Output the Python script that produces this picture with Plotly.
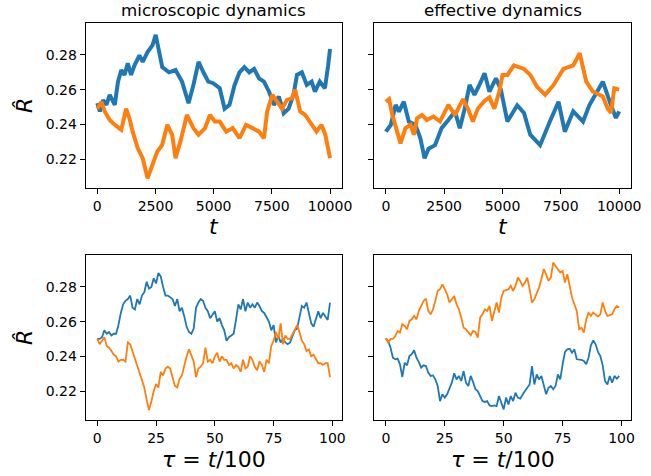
import plotly.graph_objects as go

# ---------------- data ----------------
# top-left: microscopic dynamics, t in [0, 10000]
tl_blue_t = [0, 110, 250, 390, 535, 750, 890, 1030, 1170, 1310, 1450, 1600, 1810, 1950, 2160,
             2370, 2510, 2650, 2790, 3080, 3360, 3640, 3920, 4130, 4350, 4560, 4770, 4980, 5260,
             5470, 5680, 5900, 6110, 6320, 6530, 6740, 6950, 7160, 7380, 7590, 7800, 8010, 8220,
             8430, 8580, 8790, 9000, 9210, 9350, 9560, 9780, 9920, 10000]
tl_blue_v = [0.2522, 0.2474, 0.254, 0.2512, 0.257, 0.2512, 0.2646, 0.2713, 0.2685, 0.2752, 0.2685,
             0.274, 0.2797, 0.276, 0.2816, 0.2855, 0.2915, 0.2816, 0.273, 0.27, 0.2713, 0.2646,
             0.2522, 0.2627, 0.276, 0.27, 0.2646, 0.2637, 0.2608, 0.249, 0.2512, 0.2627, 0.27,
             0.273, 0.27, 0.2719, 0.2665, 0.2646, 0.2588, 0.2512, 0.256, 0.2464, 0.249, 0.257,
             0.2685, 0.27, 0.2627, 0.2646, 0.2588, 0.2646, 0.2608, 0.274, 0.2834]
tl_orange_t = [0, 180, 320, 535, 750, 1030, 1240, 1380, 1520, 1740, 1950, 2160, 2370, 2580, 2790,
               3010, 3220, 3360, 3570, 3850, 4130, 4350, 4630, 4840, 5050, 5260, 5540, 5820, 6110,
               6390, 6670, 6950, 7160, 7300, 7520, 7730, 7940, 8150, 8360, 8500, 8720, 8930, 9210,
               9420, 9630, 9800, 10000]
tl_orange_v = [0.249, 0.253, 0.2474, 0.2425, 0.2397, 0.2368, 0.249, 0.2435, 0.2358, 0.2262, 0.2205,
               0.2089, 0.2166, 0.2243, 0.2282, 0.2397, 0.234, 0.2205, 0.23, 0.2454, 0.2378, 0.234,
               0.2378, 0.2454, 0.2416, 0.2416, 0.2358, 0.2378, 0.232, 0.2397, 0.2378, 0.2358, 0.232,
               0.2474, 0.257, 0.253, 0.249, 0.2541, 0.255, 0.26, 0.2474, 0.2454, 0.2397, 0.2358,
               0.2397, 0.234, 0.2205]

# top-right: effective dynamics, t in [0, 10000]
tr_blue_t = [0, 210, 420, 560, 770, 985, 1270, 1480, 1660, 1830, 2110, 2390, 2680, 2960, 3170,
             3380, 3590, 3800, 4010, 4230, 4440, 4720, 4930, 5210, 5630, 5920, 6190, 6610, 7030,
             7400, 7670, 8030, 8450, 8720, 9020, 9300, 9650, 9860, 10000]
tr_blue_v = [0.2358, 0.2396, 0.2512, 0.2474, 0.253, 0.2416, 0.2397, 0.232, 0.2204, 0.226, 0.228,
             0.2378, 0.2425, 0.2474, 0.2378, 0.249, 0.2627, 0.257, 0.2627, 0.2694, 0.2588, 0.2665,
             0.26, 0.2416, 0.251, 0.2466, 0.234, 0.228, 0.2416, 0.253, 0.2358, 0.2475, 0.2416,
             0.251, 0.258, 0.2646, 0.251, 0.2437, 0.2475]
tr_orange_t = [0, 140, 280, 490, 630, 840, 1060, 1200, 1340, 1550, 1760, 2040, 2320, 2680, 2960,
               3310, 3520, 3730, 3940, 4230, 4440, 4650, 4860, 5000, 5210, 5490, 5920, 6190, 6480,
               6830, 7190, 7610, 8030, 8310, 8590, 8870, 9300, 9510, 9650, 9790, 10000]
tr_orange_v = [0.253, 0.2545, 0.2453, 0.236, 0.229, 0.2378, 0.2397, 0.234, 0.2435, 0.2453, 0.2425,
               0.2445, 0.2416, 0.2512, 0.2453, 0.2545, 0.249, 0.2416, 0.249, 0.2535, 0.2555, 0.249,
               0.2588, 0.2685, 0.2685, 0.274, 0.2719, 0.2685, 0.2617, 0.257, 0.2627, 0.2719, 0.274,
               0.281, 0.2646, 0.2589, 0.256, 0.249, 0.2466, 0.2608, 0.26]

# bottom row: tau = t/100, 0..99
tau = list(range(100))
bl_blue = [0.250, 0.250, 0.251, 0.255, 0.253, 0.254, 0.252, 0.253, 0.253, 0.258,
           0.265, 0.270, 0.272, 0.273, 0.275, 0.268, 0.267, 0.273, 0.270, 0.275,
           0.277, 0.283, 0.279, 0.280, 0.285, 0.282, 0.288, 0.286, 0.280, 0.275,
           0.275, 0.274, 0.273, 0.269, 0.273, 0.266, 0.268, 0.263, 0.257, 0.254,
           0.253, 0.256, 0.268, 0.271, 0.273, 0.272, 0.268, 0.266, 0.262, 0.264,
           0.266, 0.260, 0.262, 0.258, 0.255, 0.249, 0.251, 0.252, 0.253, 0.261,
           0.270, 0.267, 0.273, 0.266, 0.271, 0.268, 0.270, 0.268, 0.271, 0.269,
           0.266, 0.265, 0.262, 0.260, 0.255, 0.258, 0.248, 0.252, 0.248, 0.250,
           0.248, 0.247, 0.248, 0.251, 0.255, 0.256, 0.262, 0.269, 0.268, 0.271,
           0.265, 0.259, 0.257, 0.262, 0.266, 0.262, 0.265, 0.263, 0.261, 0.271]
bl_orange = [0.250, 0.247, 0.249, 0.251, 0.246, 0.245, 0.243, 0.241, 0.240, 0.237,
             0.238, 0.238, 0.237, 0.248, 0.247, 0.243, 0.239, 0.234, 0.231, 0.227,
             0.222, 0.215, 0.209, 0.214, 0.220, 0.224, 0.222, 0.231, 0.229, 0.233,
             0.234, 0.233, 0.228, 0.223, 0.222, 0.227, 0.229, 0.235, 0.240, 0.244,
             0.240, 0.237, 0.228, 0.233, 0.234, 0.236, 0.245, 0.237, 0.238, 0.236,
             0.240, 0.242, 0.237, 0.240, 0.238, 0.238, 0.235, 0.236, 0.233, 0.235,
             0.234, 0.231, 0.238, 0.233, 0.234, 0.240, 0.238, 0.234, 0.232, 0.237,
             0.235, 0.231, 0.238, 0.236, 0.246, 0.249, 0.254, 0.250, 0.259, 0.247,
             0.252, 0.250, 0.250, 0.253, 0.255, 0.258, 0.254, 0.249, 0.247, 0.243,
             0.244, 0.240, 0.241, 0.238, 0.236, 0.236, 0.235, 0.236, 0.236, 0.228]
br_blue = [0.2504, 0.2488, 0.2450, 0.2392, 0.2383, 0.2387, 0.2354, 0.2281, 0.2363, 0.2348,
           0.2402, 0.2412, 0.2435, 0.2392, 0.2367, 0.2335, 0.2348, 0.2344, 0.2306, 0.2287,
           0.2290, 0.2267, 0.2229, 0.2142, 0.2181, 0.2162, 0.2181, 0.2210, 0.2248, 0.2302,
           0.2267, 0.2287, 0.2258, 0.2315, 0.2248, 0.2229, 0.2287, 0.2252, 0.2210, 0.2200,
           0.2171, 0.2142, 0.2137, 0.2142, 0.2117, 0.2113, 0.2117, 0.2113, 0.2171, 0.2133,
           0.2094, 0.2162, 0.2123, 0.2171, 0.2142, 0.2190, 0.2162, 0.2156, 0.2181, 0.2200,
           0.2219, 0.2238, 0.2344, 0.2238, 0.2296, 0.2267, 0.2287, 0.2229, 0.2181, 0.2219,
           0.2229, 0.2210, 0.2229, 0.2296, 0.2267, 0.2354, 0.2425, 0.2440, 0.2444, 0.2421,
           0.2440, 0.2383, 0.2383, 0.2379, 0.2373, 0.2354, 0.2392, 0.2463, 0.2492, 0.2469,
           0.2425, 0.2402, 0.2348, 0.2258, 0.2238, 0.2287, 0.2248, 0.2287, 0.2271, 0.2287]
br_orange = [0.2504, 0.2480, 0.2500, 0.2500, 0.2517, 0.2546, 0.2537, 0.2585, 0.2575, 0.2556,
             0.2604, 0.2613, 0.2633, 0.2613, 0.2662, 0.2690, 0.2719, 0.2733, 0.2662, 0.2642,
             0.2671, 0.2719, 0.2777, 0.2787, 0.2815, 0.2787, 0.2758, 0.2710, 0.2729, 0.2748,
             0.2700, 0.2671, 0.2623, 0.2565, 0.2556, 0.2537, 0.2521, 0.2546, 0.2540, 0.2508,
             0.2623, 0.2642, 0.2671, 0.2662, 0.2690, 0.2604, 0.2662, 0.2710, 0.2652, 0.2738,
             0.2777, 0.2781, 0.2787, 0.2806, 0.2777, 0.2806, 0.2854, 0.2835, 0.2806, 0.2825,
             0.2854, 0.2787, 0.2710, 0.2729, 0.2758, 0.2796, 0.2844, 0.2902, 0.2873, 0.2835,
             0.2854, 0.2940, 0.2921, 0.2902, 0.2883, 0.2892, 0.2825, 0.2873, 0.2796, 0.2738,
             0.2700, 0.2662, 0.2556, 0.2565, 0.2537, 0.2613, 0.2652, 0.2633, 0.2652, 0.2642,
             0.2629, 0.2642, 0.2710, 0.2662, 0.2633, 0.2637, 0.2642, 0.2671, 0.2690, 0.2681]

t_ticks = [0, 2500, 5000, 7500, 10000]
t_ticktext = ["0", "2500", "5000", "7500", "10000"]
tau_ticks = [0, 25, 50, 75, 100]
tau_ticktext = ["0", "25", "50", "75", "100"]
r_ticks = [0.22, 0.24, 0.26, 0.28]
r_ticktext = ["0.22", "0.24", "0.26", "0.28"]
titles = ["microscopic dynamics", "effective dynamics"]

BLUE = "#1f77b4"
ORANGE = "#ff7f0e"
FONT = "DejaVu Sans"
W, H = 651, 476

fig = go.Figure()
panels = [
    ("x", "y", tl_blue_t, tl_blue_v, tl_orange_t, tl_orange_v, 4.0),
    ("x2", "y2", tr_blue_t, tr_blue_v, tr_orange_t, tr_orange_v, 4.0),
    ("x3", "y3", tau, bl_blue, tau, bl_orange, 1.8),
    ("x4", "y4", tau, br_blue, tau, br_orange, 1.8),
]
for xa, ya, bx, by, ox, oy, lw in panels:
    fig.add_trace(go.Scatter(x=bx, y=by, mode="lines", xaxis=xa, yaxis=ya,
                             line=dict(color=BLUE, width=lw), showlegend=False))
    fig.add_trace(go.Scatter(x=ox, y=oy, mode="lines", xaxis=xa, yaxis=ya,
                             line=dict(color=ORANGE, width=lw), showlegend=False))

# pixel geometry
LX = (87, 347)
RX = (380, 640.7)
TY = (23, 188)
BY = (255, 420)


def xd(p):
    return [p[0] / W, p[1] / W]


def yd(p):
    return [1 - p[1] / H, 1 - p[0] / H]


common = dict(showline=True, mirror=True, linecolor="black", linewidth=1,
              ticks="outside", ticklen=5, tickwidth=1, tickcolor="black",
              showgrid=False, zeroline=False,
              tickfont=dict(family=FONT, size=14, color="black"))
yrange = [0.2033, 0.2984]
trange = [-500, 10500]
taurange = [-4.95, 103.95]

fig.update_layout(
    width=W, height=H, margin=dict(l=0, r=0, t=0, b=0),
    paper_bgcolor="white", plot_bgcolor="white",
    xaxis=dict(domain=xd(LX), anchor="y", range=trange, tickvals=t_ticks, ticktext=t_ticktext, **common),
    yaxis=dict(domain=yd(TY), anchor="x", range=yrange, tickvals=r_ticks, ticktext=r_ticktext, **common),
    xaxis2=dict(domain=xd(RX), anchor="y2", range=trange, tickvals=t_ticks, ticktext=t_ticktext, **common),
    yaxis2=dict(domain=yd(TY), anchor="x2", range=yrange, tickvals=r_ticks, showticklabels=False, **common),
    xaxis3=dict(domain=xd(LX), anchor="y3", range=taurange, tickvals=tau_ticks, ticktext=tau_ticktext, **common),
    yaxis3=dict(domain=yd(BY), anchor="x3", range=yrange, tickvals=r_ticks, ticktext=r_ticktext, **common),
    xaxis4=dict(domain=xd(RX), anchor="y4", range=taurange, tickvals=tau_ticks, ticktext=tau_ticktext, **common),
    yaxis4=dict(domain=yd(BY), anchor="x4", range=yrange, tickvals=r_ticks, showticklabels=False, **common),
)

ann = []


def add_text(text, xpx, ypx, size, angle=0):
    ann.append(dict(text=text, x=xpx / W, y=1 - ypx / H, xref="paper", yref="paper",
                    xanchor="center", yanchor="middle", showarrow=False, textangle=angle,
                    font=dict(family=FONT, size=size, color="black")))


add_text(titles[0], (LX[0] + LX[1]) / 2, 10, 16.7)
add_text(titles[1], (RX[0] + RX[1]) / 2, 10, 16.7)
add_text("<i>t</i>", (LX[0] + LX[1]) / 2, 226, 22)
add_text("<i>t</i>", (RX[0] + RX[1]) / 2, 226, 22)
add_text("<i>τ</i> = <i>t</i>/100", (LX[0] + LX[1]) / 2, 459, 22)
add_text("<i>τ</i> = <i>t</i>/100", (RX[0] + RX[1]) / 2, 459, 22)
add_text("<i>R̂</i>", 25, (TY[0] + TY[1]) / 2, 22, -90)
add_text("<i>R̂</i>", 25, (BY[0] + BY[1]) / 2, 22, -90)
fig.update_layout(annotations=ann)

fig.write_html("out.html")
